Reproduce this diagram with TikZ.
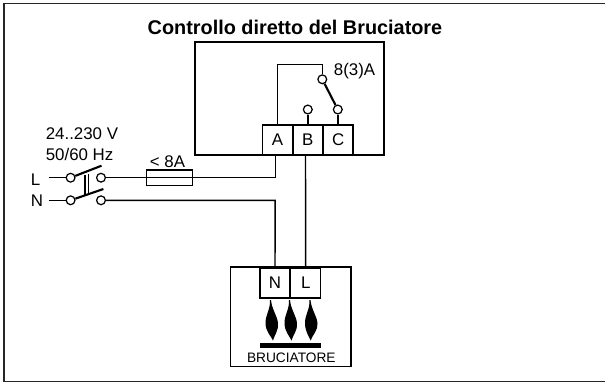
\documentclass[tikz,border=0pt]{standalone}
\usepackage{fontspec}
\setmainfont{Liberation Sans}
\usetikzlibrary{calc}
\def\flame(#1,#2,#3){\fill[black] (#1,#2) .. controls (#1+0.5,#2+10) and (#1-5,#2+15) .. (#1-4.5,#2+24) .. controls (#1-4,#2+32) and (#1+#3-2,#2+36) .. (#1+#3,#2+40.5) .. controls (#1+#3+1,#2+36) and (#1+9,#2+30) .. (#1+8,#2+23) .. controls (#1+7,#2+15) and (#1+2,#2+10) .. (#1+1,#2) -- cycle;}
\tikzset{
	wire/.style={line width=0.8pt},
	blade/.style={line width=1.2pt},
	contact/.style={circle,draw,line width=0.7pt,fill=white,inner sep=0pt,minimum size=5pt},
	terminal/.style={rectangle,draw,line width=0.8pt,inner sep=0pt,minimum width=0.6cm,minimum height=0.6cm,font=\fontsize{9.6}{11}\selectfont},
	lbl/.style={inner sep=0pt,font=\fontsize{9.6}{11}\selectfont}
}
\begin{document}
\begin{tikzpicture}[x=0.02cm,y=-0.02cm]
	%%%%% FRAME %%%%%
	\useasboundingbox (0,0) rectangle (605,383);
	\draw[line width=1.1pt,black!85] (605,3.5) -- (4,3.5) -- (4,381.5) -- (605,381.5);
	\node[lbl,font=\bfseries\fontsize{11.3}{13}\selectfont] (title) at (295,27) {Controllo diretto del Bruciatore};

	%%%%% CONTROLLER %%%%%
	\draw[wire] (195,42) rectangle (384,155);
	\node[terminal] (A) at (277.5,140) {A};
	\node[terminal] (B) at (307.8,140) {B};
	\node[terminal] (C) at (338.2,140) {C};
	\node[contact] (com) at (322.3,79.3) {};
	\node[contact] (nc) at (307.8,109.5) {};
	\node[contact] (no) at (337.8,109.5) {};
	\node[lbl] (rating) at (354.5,71) {8(3)A};
	\draw[wire] (A.north) -- (277.5,64.7) -- (322.3,64.7) -- (com.north);
	\draw[wire] (nc) -- (nc |- B.north);
	\draw[wire] (no) -- (no |- C.north);
	\draw[blade] (com) -- (no);

	%%%%% SUPPLY %%%%%
	\node[lbl,anchor=west] (volt) at (45.5,134) {24..230 V};
	\node[lbl,anchor=west] (freq) at (45.5,154) {50/60 Hz};
	\node[lbl] (L) at (35.5,179.5) {L};
	\node[lbl] (N) at (37,200.5) {N};
	\node[contact] (Lin) at (70.6,177.7) {};
	\node[contact] (Nin) at (70.6,200.3) {};
	\node[contact] (Lout) at (101,177.7) {};
	\node[contact] (Nout) at (101,200.3) {};
	\coordinate (Ltip) at (101.5,165.7);
	\coordinate (Ntip) at (103.4,189);
	\draw[wire] (48.6,177.7) -- (Lin);
	\draw[wire] (48.6,200.3) -- (Nin);
	\draw[blade] (Lin) -- (Ltip);
	\draw[blade] (Nin) -- (Ntip);
	\draw[wire] (85,175) -- (85,195);
	\draw[wire] (88.4,174) -- (88.4,194);

	\node[rectangle,draw,line width=0.8pt,inner sep=0pt,minimum width=0.92cm,minimum height=0.306cm] (fuse) at (169.5,177.7) {};
	\node[lbl] (amp) at (167.5,162) {< 8A};

	%%%%% BURNER %%%%%
	\draw[wire] (230.5,267) rectangle (351,366.5);
	\node[terminal] (Nb) at (275,283) {N};
	\node[terminal] (Lb) at (305.7,283) {L};
	\draw[wire] (Lout) -- (275.2,177.7) -- (275.2,155);
	\draw[wire] (Nout) -- (275.2,200.3) -- (Nb.north);
	\draw[wire] (305.5,155) -- (Lb.north);
	\flame(270,300,3)
	\flame(289,300,2.5)
	\flame(309.5,300,1.2)
	\fill[black] (260.4,343) rectangle (321.4,348);
	\node[lbl,font=\fontsize{7.8}{9}\selectfont] (burner) at (291.3,357.3) {BRUCIATORE};
\end{tikzpicture}
\end{document}
